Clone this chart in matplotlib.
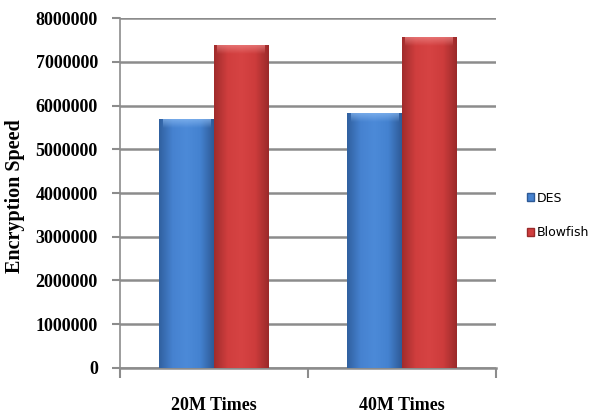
import numpy as np
import matplotlib.pyplot as plt
from matplotlib.colors import LinearSegmentedColormap
from matplotlib.patches import Patch

categories = ["20M Times", "40M Times"]
des = [5690000, 5830000]
blowfish = [7380000, 7570000]
series_names = ["DES", "Blowfish"]
yticks = [0, 1000000, 2000000, 3000000, 4000000, 5000000, 6000000, 7000000, 8000000]

serif = ["Liberation Serif", "DejaVu Serif"]

fig = plt.figure(figsize=(5.93, 4.16), dpi=100)
ax = fig.add_axes([0.2024, 0.1154, 0.6340, 0.8413])

x = np.arange(len(categories))
w = 0.29

blue_cmap = LinearSegmentedColormap.from_list("b", ["#30609f", "#4682d0", "#4c8ad8", "#4482d0", "#2e5a96"])
red_cmap = LinearSegmentedColormap.from_list("r", ["#a02c2c", "#d03e3e", "#d64343", "#cd3c3c", "#9a2a2a"])
grad = np.linspace(0, 1, 256).reshape(1, -1)
vgrad = np.linspace(0, 1, 64).reshape(-1, 1)

def shaded_bars(xs, vals, cmap, top_col):
    bars = ax.bar(xs, vals, w, color="none", edgecolor="none", zorder=3)
    for b in bars:
        x0, y0 = b.get_x(), b.get_y()
        bw, bh = b.get_width(), b.get_height()
        im = ax.imshow(grad, cmap=cmap, aspect="auto", extent=[x0, x0 + bw, y0, y0 + bh],
                       zorder=3, interpolation="bicubic")
        im.set_clip_path(b)
        # soft highlight along the top edge
        tc = LinearSegmentedColormap.from_list("t", [top_col + "00", top_col + "b0"])
        ax.imshow(vgrad, cmap=tc, aspect="auto", origin="lower",
                  extent=[x0 + bw * 0.06, x0 + bw * 0.94, y0 + bh - 200000, y0 + bh],
                  zorder=4, interpolation="bicubic")
    return bars

shaded_bars(x - w / 2, des, blue_cmap, "#8cbcf4")
shaded_bars(x + w / 2, blowfish, red_cmap, "#f08a8a")

ax.set_xlim(-0.5, len(categories) - 0.5)
ax.set_ylim(0, 8000000)
ax.set_yticks(yticks)
ax.set_yticklabels([str(t) for t in yticks], fontfamily=serif, fontweight="bold", fontsize=13)
ax.set_xticks([-0.5, 0.5, 1.5])
ax.set_xticklabels([])
for i, c in enumerate(categories):
    ax.text(i, -0.108, c, transform=ax.get_xaxis_transform(), ha="center", va="center",
            fontfamily=serif, fontweight="bold", fontsize=13)

ax.grid(axis="y", color="#8c8c8c", linewidth=1.8, zorder=0)
ax.set_axisbelow(True)
for s in ["top", "right"]:
    ax.spines[s].set_visible(False)
ax.spines["left"].set_color("#8c8c8c")
ax.spines["left"].set_linewidth(1.2)
ax.spines["bottom"].set_color("#8c8c8c")
ax.spines["bottom"].set_linewidth(1.8)
ax.tick_params(axis="y", length=6, color="#8c8c8c", width=1.5, pad=10)
ax.tick_params(axis="x", length=7, color="#8c8c8c", width=1.5)

ax.set_ylabel("Encryption Speed", fontfamily=serif, fontweight="bold", fontsize=14.5)
ax.yaxis.set_label_coords(-0.252, 0.49)

handles = [Patch(facecolor="#4682d0", edgecolor="#2e5a96"), Patch(facecolor="#d03e3e", edgecolor="#9a2a2a")]
fig.legend(handles, series_names, loc="upper left", bbox_to_anchor=(0.869, 0.566), frameon=False,
           handlelength=0.6, handleheight=0.6, handletextpad=0.2, labelspacing=1.7,
           prop={"family": "DejaVu Sans", "size": 9})

fig.savefig("out.png", dpi=100)
